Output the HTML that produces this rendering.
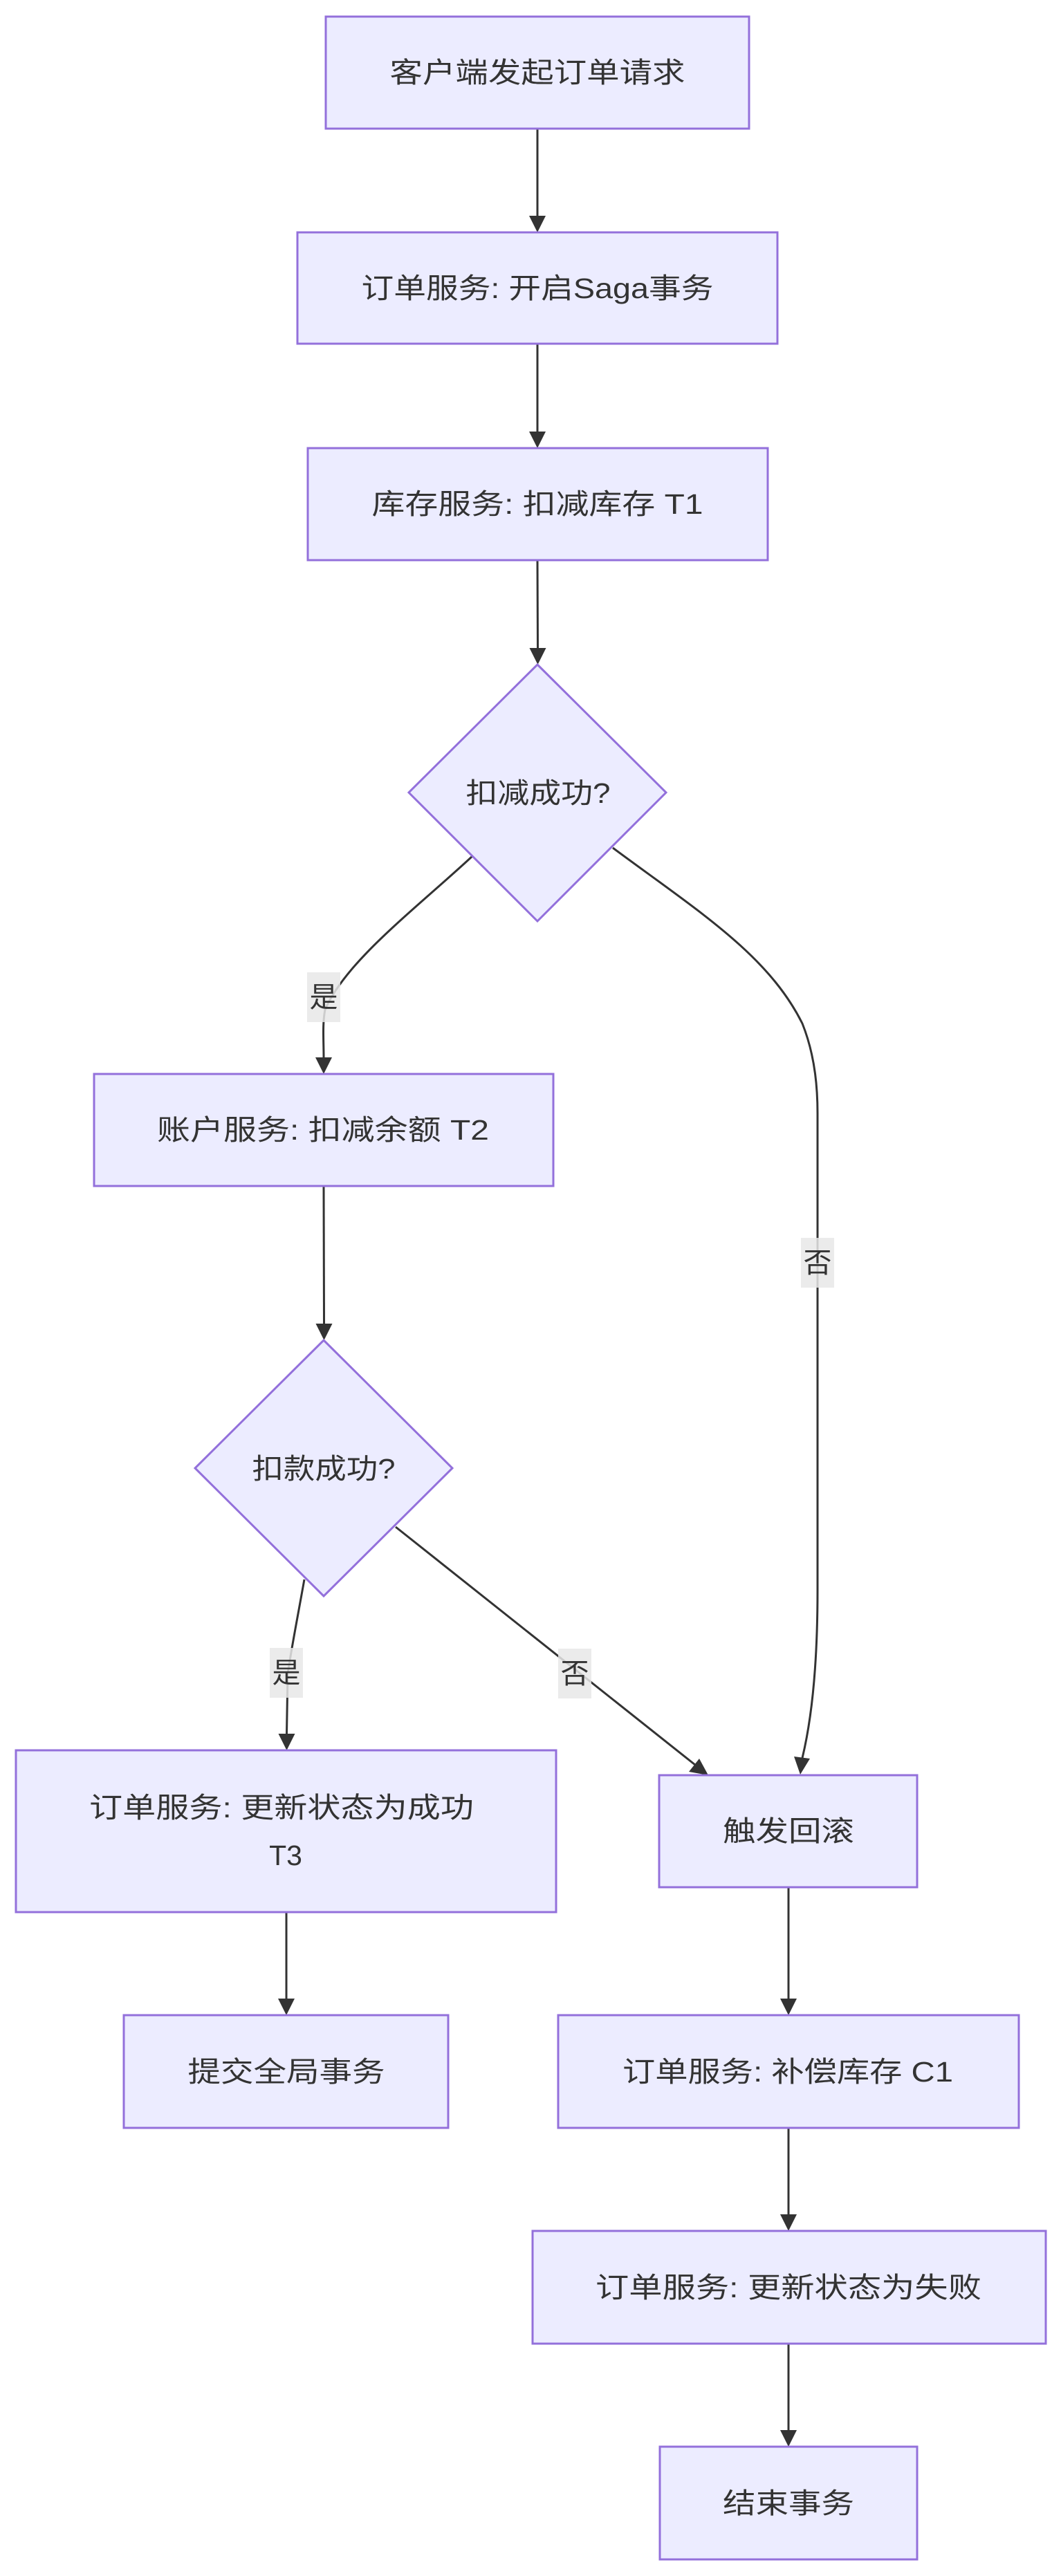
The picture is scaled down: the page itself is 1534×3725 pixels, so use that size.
<!DOCTYPE html>
<html><head><meta charset="utf-8"><style>
html,body{margin:0;padding:0;background:#fff;}
svg{display:block;}
text{font-family:"Liberation Sans","Noto Sans CJK SC",sans-serif;font-size:41px;fill:#333;}
.n{fill:#ECECFF;stroke:#9370DB;stroke-width:3;}
.e{fill:none;stroke:#333;stroke-width:3;}
.lb{fill:rgba(232,232,232,0.85);}
</style></head><body>
<svg width="1534" height="3725" viewBox="0 0 1534 3725" xmlns="http://www.w3.org/2000/svg">
<defs><marker id="a" viewBox="0 0 10 10" refX="10" refY="5" markerWidth="8" markerHeight="8" markerUnits="userSpaceOnUse" orient="auto"></marker>
</defs>
<!-- edges -->
<path class="e" d="M777 186 L777 312"/>
<path class="e" d="M777 497 L777 624"/>
<path class="e" d="M777 810 L777.5 937"/>
<path class="e" d="M683 1238 C600 1315 500 1390 470 1460 C466 1480 468 1505 468 1529"/>
<path class="e" d="M886 1226 C1010 1318 1110 1380 1160 1480 C1180 1530 1182 1580 1182 1610 L1182 2300 C1182 2400 1175 2480 1160 2542"/>
<path class="e" d="M468 1715 L468.5 1914"/>
<path class="e" d="M572 2208 L1005 2552"/>
<path class="e" d="M440 2284 C430 2340 422 2380 416 2420 L414.5 2507"/>
<path class="e" d="M414 2765 L414 2890"/>
<path class="e" d="M1140 2729 L1140 2890"/>
<path class="e" d="M1140 3077 L1140 3202"/>
<path class="e" d="M1140 3389 L1140 3514"/>
<!-- arrowheads -->
<g fill="#333">
<polygon points="765,312 789,312 777,336"/>
<polygon points="765,624 789,624 777,648"/>
<polygon points="765.5,937 789.5,937 777.5,961"/>
<polygon points="456,1529 480,1529 468,1553"/>
<polygon points="456.5,1914 480.5,1914 468.5,1938"/>
<polygon points="402.5,2507 426.5,2507 414.5,2531"/>
<polygon points="402,2890 426,2890 414,2914"/>
<polygon points="1128,2890 1152,2890 1140,2914"/>
<polygon points="1128,3202 1152,3202 1140,3226"/>
<polygon points="1128,3514 1152,3514 1140,3538"/>
<polygon points="1148,2540 1171,2543 1157,2566"/>
<polygon points="996,2562 1011,2543 1024,2567"/>
</g>
<!-- labels -->
<rect class="lb" x="444" y="1406" width="48" height="72"/>
<text x="468" y="1456" text-anchor="middle">是</text>
<rect class="lb" x="1158" y="1790" width="48" height="72"/>
<text x="1182" y="1840" text-anchor="middle">否</text>
<rect class="lb" x="807" y="2384" width="48" height="72"/>
<text x="831" y="2434" text-anchor="middle">否</text>
<rect class="lb" x="390" y="2383" width="48" height="72"/>
<text x="414" y="2433" text-anchor="middle">是</text>
<!-- nodes -->
<rect class="n" x="471" y="24" width="612" height="162"/>
<text x="777" y="119" text-anchor="middle" textLength="427" lengthAdjust="spacingAndGlyphs">客户端发起订单请求</text>
<rect class="n" x="430" y="336" width="694" height="161"/>
<text x="777" y="431" text-anchor="middle" textLength="509" lengthAdjust="spacingAndGlyphs">订单服务: 开启Saga事务</text>
<rect class="n" x="445" y="648" width="665" height="162"/>
<text x="777" y="743" text-anchor="middle" textLength="479" lengthAdjust="spacingAndGlyphs">库存服务: 扣减库存 T1</text>
<polygon class="n" points="777,961 963,1146 777,1332 591,1146"/>
<text x="778" y="1161" text-anchor="middle" textLength="209" lengthAdjust="spacingAndGlyphs">扣减成功?</text>
<rect class="n" x="136" y="1553" width="664" height="162"/>
<text x="467" y="1648" text-anchor="middle" textLength="480" lengthAdjust="spacingAndGlyphs">账户服务: 扣减余额 T2</text>
<polygon class="n" points="468,1938 654,2123 468,2308 282,2123"/>
<text x="468" y="2138" text-anchor="middle" textLength="207" lengthAdjust="spacingAndGlyphs">扣款成功?</text>
<rect class="n" x="23" y="2531" width="781" height="234"/>
<text x="407" y="2628" text-anchor="middle" textLength="556" lengthAdjust="spacingAndGlyphs">订单服务: 更新状态为成功</text>
<text x="413" y="2697" text-anchor="middle">T3</text>
<rect class="n" x="953" y="2567" width="373" height="162"/>
<text x="1140" y="2662" text-anchor="middle" textLength="190" lengthAdjust="spacingAndGlyphs">触发回滚</text>
<rect class="n" x="179" y="2914" width="469" height="163"/>
<text x="414" y="3010" text-anchor="middle" textLength="285" lengthAdjust="spacingAndGlyphs">提交全局事务</text>
<rect class="n" x="807" y="2914" width="666" height="163"/>
<text x="1139" y="3010" text-anchor="middle" textLength="478" lengthAdjust="spacingAndGlyphs">订单服务: 补偿库存 C1</text>
<rect class="n" x="770" y="3226" width="742" height="163"/>
<text x="1140" y="3322" text-anchor="middle" textLength="558" lengthAdjust="spacingAndGlyphs">订单服务: 更新状态为失败</text>
<rect class="n" x="954" y="3538" width="372" height="163"/>
<text x="1140" y="3634" text-anchor="middle" textLength="190" lengthAdjust="spacingAndGlyphs">结束事务</text>
</svg>
</body></html>
